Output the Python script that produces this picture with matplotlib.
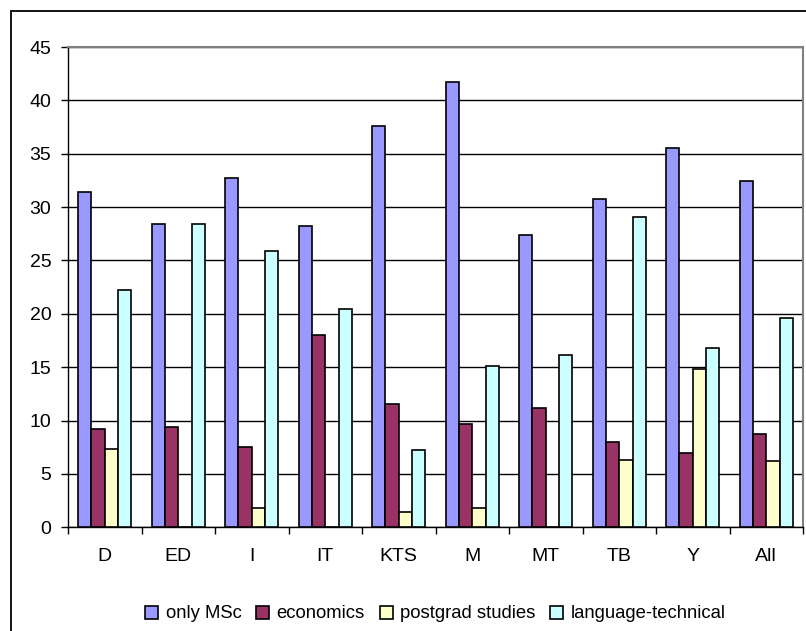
import matplotlib.pyplot as plt
import numpy as np
from matplotlib.patches import Rectangle

categories = ["D", "ED", "I", "IT", "KTS", "M", "MT", "TB", "Y", "All"]
only_msc = [31.4, 28.4, 32.75, 28.2, 37.6, 41.7, 27.4, 30.75, 35.5, 32.45]
economics = [9.2, 9.4, 7.5, 18.0, 11.55, 9.7, 11.2, 8.0, 7.0, 8.7]
postgrad = [7.35, 0, 1.8, 0, 1.45, 1.8, 0, 6.35, 14.8, 6.2]
lang_tech = [22.2, 28.4, 25.9, 20.45, 7.2, 15.1, 16.15, 29.05, 16.8, 19.6]

series_names = ["only MSc", "economics", "postgrad studies", "language-technical"]
series_colors = ["#9999FF", "#993366", "#FFFFCC", "#CCFFFF"]

plt.rcParams['font.family'] = ['Liberation Sans', 'DejaVu Sans']

W, H = 806, 631
fig = plt.figure(figsize=(W / 100, H / 100), dpi=100)

# outer chart frame (cut off at right/bottom like the original)
fig.patches.append(Rectangle((11 / W, -0.1), 1.2, 1 - 11 / H + 0.1, transform=fig.transFigure,
                             fill=False, edgecolor="black", linewidth=1.3, clip_on=False))

left, right, top, bottom = 68, 803, 47, 527.3
ax = fig.add_axes([left / W, 1 - bottom / H, (right - left) / W, (bottom - top) / H])

x = np.arange(len(categories))
w = 1 / 5.5
all_series = [only_msc, economics, postgrad, lang_tech]
for i, (vals, name, col) in enumerate(zip(all_series, series_names, series_colors)):
    ax.bar(x + (i - 1.5) * w, vals, width=w, color=col, edgecolor="black",
           linewidth=1.2, label=name, zorder=3)

ax.set_xlim(-0.5, len(categories) - 0.5)
ax.set_ylim(0, 45)
ax.set_yticks(np.arange(0, 46, 5))
ax.yaxis.grid(True, color="black", linewidth=1.0, zorder=0)
ax.set_axisbelow(True)

ax.set_xticks(x)
ax.set_xticklabels(categories)
ax.set_xticks(np.arange(-0.5, len(categories)), minor=True)
ax.tick_params(axis="x", which="major", length=0, pad=15, labelsize=14)
ax.tick_params(axis="x", which="minor", length=5, width=1, direction="out")
ax.tick_params(axis="y", length=5, width=1, pad=7, labelsize=14)

for s in ["top", "right"]:
    ax.spines[s].set_color("#808080")
    ax.spines[s].set_linewidth(1.5)
for s in ["left", "bottom"]:
    ax.spines[s].set_color("black")
    ax.spines[s].set_linewidth(1.0)

fig.legend(loc="center", bbox_to_anchor=((left + right) / 2 / W, 1 - 614 / H), ncol=4,
           frameon=False, fontsize=13.3, handlelength=0.7, handleheight=0.7,
           handletextpad=0.4, columnspacing=0.8)

fig.savefig("out.png", dpi=100)
